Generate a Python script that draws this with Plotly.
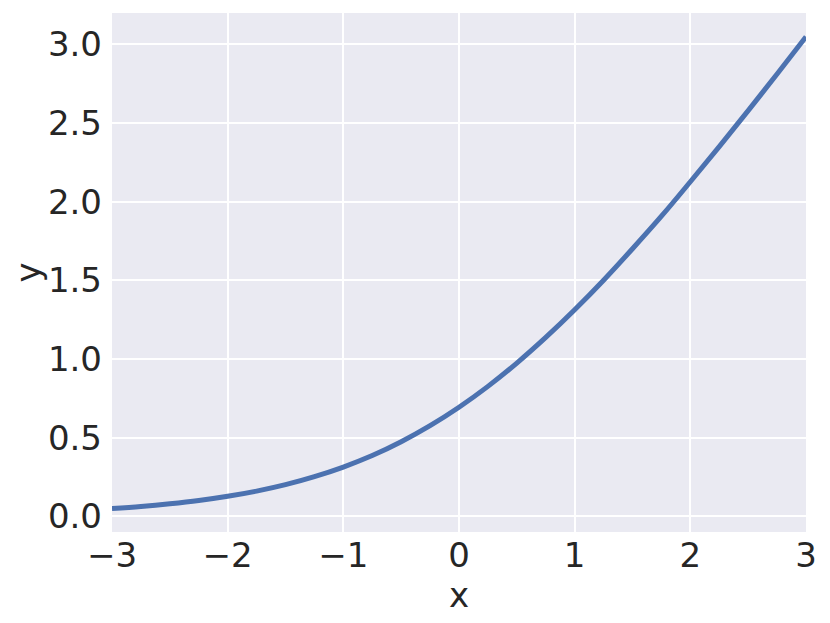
"""Softplus-shaped curve on a seaborn-style darkgrid background."""
import plotly.graph_objects as go

x_vals = [-3.0, -2.75, -2.5, -2.25, -2.0, -1.75, -1.5, -1.25, -1.0, -0.75, -0.5, -0.25,
          0.0, 0.25, 0.5, 0.75, 1.0, 1.25, 1.5, 1.75, 2.0, 2.25, 2.5, 2.75, 3.0]
y_vals = [0.049, 0.062, 0.079, 0.100, 0.127, 0.160, 0.201, 0.252, 0.313, 0.386, 0.474, 0.576,
          0.693, 0.826, 0.974, 1.137, 1.313, 1.501, 1.701, 1.908, 2.127, 2.350, 2.579, 2.812, 3.049]

x_ticks = [-3, -2, -1, 0, 1, 2, 3]
x_tick_text = ["\u22123", "\u22122", "\u22121", "0", "1", "2", "3"]
y_ticks = [0.0, 0.5, 1.0, 1.5, 2.0, 2.5, 3.0]
y_tick_text = ["0.0", "0.5", "1.0", "1.5", "2.0", "2.5", "3.0"]

fig = go.Figure(go.Scatter(
    x=x_vals, y=y_vals, mode="lines",
    line=dict(color="#4C72B0", width=5, shape="spline"),
    hoverinfo="skip",
))

font = dict(family="DejaVu Sans", size=34, color="#262626")
# page body adds an 8px margin, so the figure is shrunk to fit the window
fig.update_layout(
    width=822, height=615,
    margin=dict(l=104, r=24, t=5, b=91),
    paper_bgcolor="white", plot_bgcolor="#EAEAF2",
    font=font, showlegend=False,
)
fig.update_xaxes(
    range=[-3, 3], tickvals=x_ticks, ticktext=x_tick_text,
    showgrid=True, gridcolor="white", gridwidth=1.5, zeroline=False,
    showline=False, ticks="", ticklen=0, automargin=False,
    title=dict(text="x", font=font, standoff=0),
)
fig.update_yaxes(
    range=[-0.1, 3.2], tickvals=y_ticks, ticktext=y_tick_text,
    showgrid=True, gridcolor="white", gridwidth=1.5, zeroline=False,
    showline=False, ticks="", ticklen=0, automargin=False, ticklabelstandoff=9,
    title=dict(text="y", font=font, standoff=2),
)

fig.write_html("out.html")
